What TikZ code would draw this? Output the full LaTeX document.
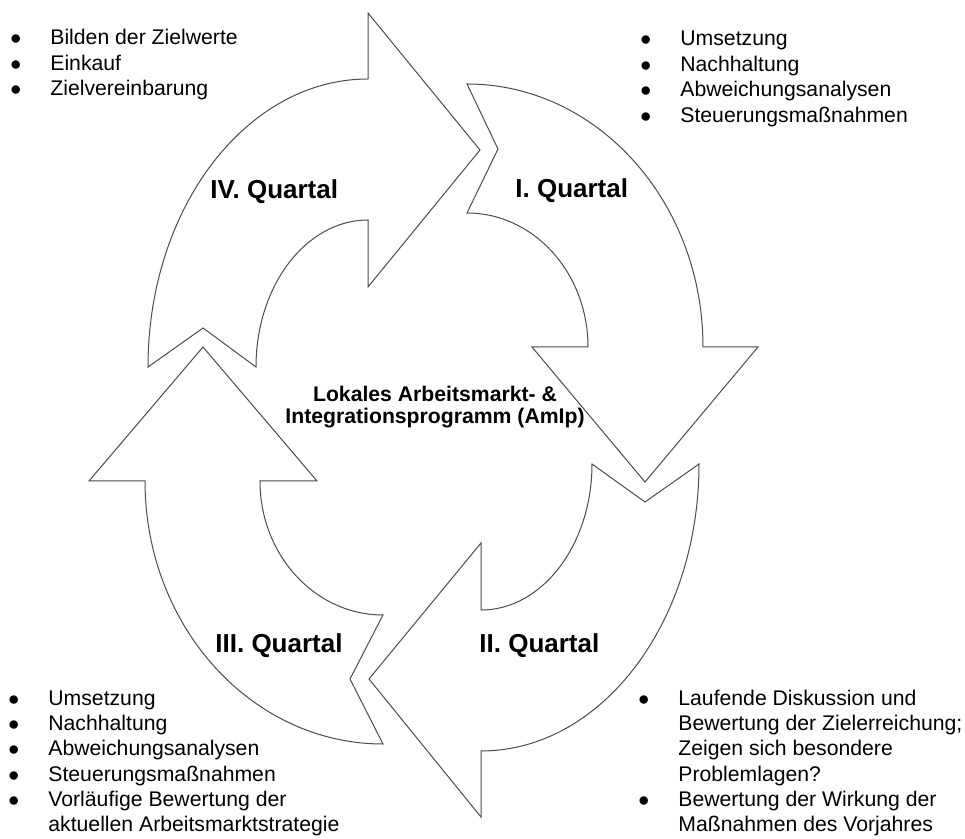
\documentclass[tikz,border=0pt]{standalone}
\usepackage{fontspec}
\setmainfont{Liberation Sans}
\begin{document}
\begin{tikzpicture}[x=0.5pt,y=-0.5pt,
  pfeil/.style={draw=black!70,fill=white,line width=0.5pt,line join=miter},
  qlabel/.style={font=\fontsize{13}{15}\selectfont\bfseries,anchor=base west,inner sep=0},
  liste/.style={font=\fontsize{10.6}{12.7}\selectfont,anchor=base west,inner sep=0},
  mitte/.style={font=\fontsize{10.6}{11}\selectfont\bfseries,anchor=base,inner sep=0}]
  \useasboundingbox (0,0) rectangle (965,839);

  \draw[pfeil] (148,367) -- (203,328) -- (256,367)
    arc[start angle=180,end angle=270,x radius=112,y radius=147]
    -- (368,287) -- (480,150) -- (368,13) -- (368,79)
    arc[start angle=270,end angle=180,x radius=220,y radius=288] -- cycle;
  \draw[pfeil] (467,84) -- (498,149) -- (467,213)
    arc[start angle=270,end angle=360,x radius=121,y radius=134]
    -- (532,347) -- (645,482) -- (758,347) -- (703,347)
    arc[start angle=0,end angle=-90,x radius=236,y radius=263] -- cycle;
  \draw[pfeil] (699,464) -- (645,502) -- (592,464)
    arc[start angle=0,end angle=90,x radius=111,y radius=146]
    -- (481,543) -- (369,679) -- (481,817) -- (481,751)
    arc[start angle=90,end angle=0,x radius=218,y radius=287] -- cycle;
  \draw[pfeil] (383,744) -- (350,679) -- (383,615)
    arc[start angle=90,end angle=180,x radius=123,y radius=134]
    -- (317,481) -- (203,347) -- (89,481) -- (145,481)
    arc[start angle=180,end angle=90,x radius=238,y radius=263] -- cycle;

  \node[qlabel] (q4) at (210,199) {IV. Quartal};
  \node[qlabel] (q1) at (515,198) {I. Quartal};
  \node[qlabel] (q2) at (479,653) {II. Quartal};
  \node[qlabel] (q3) at (215,653) {III. Quartal};

  \node[mitte] (amip) at (435,402) {\begin{tabular}[t]{@{}c@{}}
    Lokales Arbeitsmarkt- \&\\
    Integrationsprogramm (AmIp)
  \end{tabular}};

  \node[liste] (l4) at (10,45) {\begin{tabular}[t]{@{}p{20pt}@{}l@{}}
    $\bullet$ & Bilden der Zielwerte\\
    $\bullet$ & Einkauf\\
    $\bullet$ & Zielvereinbarung
  \end{tabular}};
  \node[liste] (l1) at (640,46) {\begin{tabular}[t]{@{}p{20pt}@{}l@{}}
    $\bullet$ & Umsetzung\\
    $\bullet$ & Nachhaltung\\
    $\bullet$ & Abweichungsanalysen\\
    $\bullet$ & Steuerungsmaßnahmen
  \end{tabular}};
  \node[liste] (l3) at (8,705) {\begin{tabular}[t]{@{}p{20pt}@{}l@{}}
    $\bullet$ & Umsetzung\\
    $\bullet$ & Nachhaltung\\
    $\bullet$ & Abweichungsanalysen\\
    $\bullet$ & Steuerungsmaßnahmen\\
    $\bullet$ & Vorläufige Bewertung der\\
              & aktuellen Arbeitsmarktstrategie
  \end{tabular}};
  \node[liste] (l2) at (638,705) {\begin{tabular}[t]{@{}p{20pt}@{}l@{}}
    $\bullet$ & Laufende Diskussion und\\
              & Bewertung der Zielerreichung;\\
              & Zeigen sich besondere\\
              & Problemlagen?\\
    $\bullet$ & Bewertung der Wirkung der\\
              & Maßnahmen des Vorjahres
  \end{tabular}};
\end{tikzpicture}
\end{document}
